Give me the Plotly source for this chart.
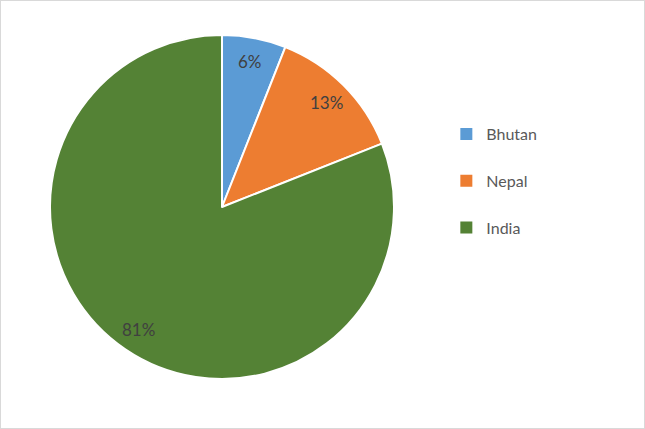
import numpy as np
import plotly.graph_objects as go

countries = ["Bhutan", "Nepal", "India"]
shares = [6, 13, 81]
colors = ["#5B9BD5", "#ED7D31", "#548235"]

W, H = 645, 429
cx, cy, R = 222, 207, 172

fig = go.Figure()

fig.add_trace(go.Pie(
    labels=countries,
    values=shares,
    sort=False,
    direction="clockwise",
    rotation=0,
    marker=dict(colors=colors, line=dict(color="white", width=2)),
    textinfo="none",
    hoverinfo="label+percent",
    showlegend=False,
    domain=dict(x=[(cx - R) / W, (cx + R) / W],
                y=[(H - cy - R) / H, (H - cy + R) / H]),
))

# legend entries with square markers and Excel-like spacing
for name, col in zip(countries, colors):
    fig.add_trace(go.Scatter(
        x=[None], y=[None], mode="markers", name=name,
        marker=dict(symbol="square", size=7, color=col),
        legendgroup=name, showlegend=True,
    ))

# percentage labels near outer edge of each slice
total = sum(shares)
cum = np.cumsum([0] + shares)
for i, v in enumerate(shares):
    mid = (cum[i] + v / 2) / total * 2 * np.pi
    rr = 0.86 * R
    px_ = cx + rr * np.sin(mid)
    py_ = cy - rr * np.cos(mid)
    fig.add_annotation(
        x=px_ / W, y=1 - py_ / H, xref="paper", yref="paper",
        xanchor="center", yanchor="middle",
        text=f"{round(v / total * 100)}%", showarrow=False,
        font=dict(family="Lato, Noto Sans, sans-serif", size=17, color="#404040"),
    )

fig.update_layout(
    width=W, height=H,
    margin=dict(l=0, r=0, t=0, b=0),
    paper_bgcolor="white",
    plot_bgcolor="white",
    xaxis=dict(visible=False),
    yaxis=dict(visible=False),
    font=dict(family="Lato, Noto Sans, sans-serif", size=16, color="#595959"),
    legend=dict(x=0.692, y=1 - 117 / H, xanchor="left", yanchor="top",
                tracegroupgap=23, itemsizing="constant",
                bgcolor="rgba(0,0,0,0)"),
    shapes=[dict(type="rect", xref="paper", yref="paper", x0=0, y0=0, x1=1, y1=1,
                 line=dict(color="#D9D9D9", width=2), fillcolor="rgba(0,0,0,0)")],
)

fig.write_html("out.html", config={"displayModeBar": False},
               post_script="document.body.style.margin='0';document.body.style.overflow='hidden';")
